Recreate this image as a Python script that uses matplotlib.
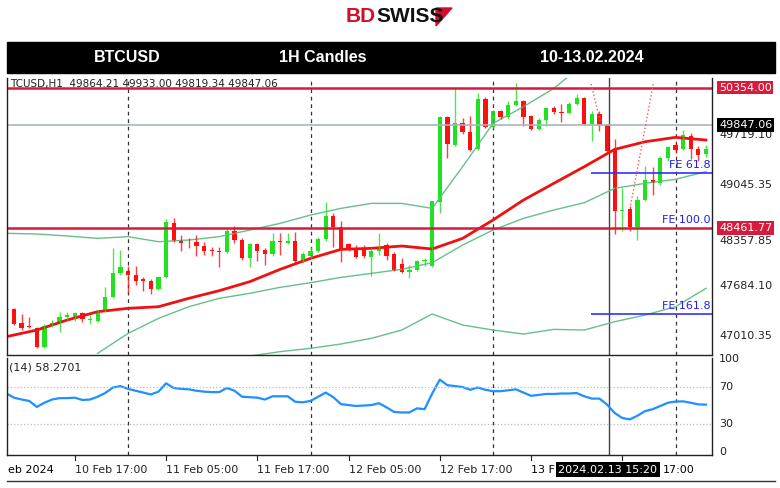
import numpy as np
import matplotlib.pyplot as plt
from matplotlib.patches import Rectangle, Polygon
from matplotlib.transforms import blended_transform_factory as btf

# candle readings (chart levels, converted to price below)
# first 47 candles read on one scale, the rest on another
lvl_a = [
    (391, 388, 386, 392), (388, 432, 383, 435), (430, 445, 403, 450), (438, 440, 410, 445),
    (445, 502, 440, 505), (500, 438, 432, 505), (438, 428, 420, 440), (425, 410, 395, 455),
    (412, 405, 395, 420), (418, 398, 395, 422), (398, 418, 395, 425), (419, 417, 405, 432),
    (422, 392, 390, 425), (392, 352, 320, 395), (352, 278, 205, 355), (278, 262, 210, 285),
    (272, 285, 258, 338), (285, 302, 258, 315), (298, 302, 290, 332), (302, 328, 298, 342),
    (328, 292, 290, 330), (292, 125, 118, 295), (128, 182, 115, 185), (180, 190, 165, 212),
    (188, 190, 175, 205), (185, 198, 165, 228), (198, 212, 185, 225), (212, 213, 200, 228),
    (212, 215, 200, 262), (215, 152, 145, 218), (152, 180, 138, 188), (180, 235, 175, 240),
    (235, 192, 190, 262), (192, 212, 190, 242), (210, 222, 205, 255), (222, 182, 160, 228),
    (182, 185, 160, 225), (188, 183, 160, 192), (183, 243, 155, 248), (243, 222, 215, 250),
    (228, 212, 200, 235), (212, 178, 170, 215), (178, 108, 65, 182), (108, 142, 100, 200),
    (140, 208, 122, 245), (192, 210, 188, 212), (205, 230, 195, 235),
]
lvl_b = [
    (512, 535, 500, 540), (538, 518, 510, 595), (520, 508, 465, 530), (500, 535, 495, 545),
    (528, 578, 522, 580), (558, 582, 540, 585), (582, 575, 560, 600), (575, 548, 545, 580),
    (548, 545, 540, 565), (565, 370, 368, 568), (372, 118, 115, 405), (118, 198, 115, 240),
    (200, 135, 30, 205), (135, 162, 120, 168), (162, 215, 115, 218), (212, 62, 45, 215),
    (62, 148, 58, 150), (148, 100, 95, 150), (98, 118, 95, 122), (118, 82, 68, 122),
    (82, 70, 15, 85), (68, 118, 65, 145), (115, 152, 110, 155), (152, 125, 120, 155),
    (125, 90, 88, 145), (90, 102, 85, 108), (102, 105, 78, 132), (105, 78, 72, 108),
    (78, 60, 48, 82), (60, 138, 58, 142), (138, 108, 100, 188), (108, 140, 100, 158),
    (140, 218, 138, 222), (215, 400, 182, 468), (400, 395, 330, 458), (392, 448, 385, 458),
    (448, 365, 355, 485), (365, 305, 265, 368), (305, 315, 268, 350), (315, 240, 235, 322),
    (240, 208, 205, 248), (200, 215, 195, 225), (212, 172, 155, 215), (175, 212, 165, 242),
    (212, 232, 205, 248), (228, 212, 200, 238),
]
ohlc_a = np.array([(o, h, l, c) for o, c, h, l in lvl_a], float) * -4.487 + 49109
ohlc_b = np.array([(o, h, l, c) for o, c, h, l in lvl_b], float) * -4.487 + 50482
ohlc = np.vstack([ohlc_a, ohlc_b])
opens, highs, lows, closes = ohlc.T

ma_idx = np.arange(0, 93, 4)
ma_red = [47000, 47089, 47224, 47336, 47381, 47403, 47516, 47619, 47740, 47906, 48054, 48175,
          48189, 48220, 48180, 48323, 48570, 48839, 49064, 49288, 49521, 49624, 49683, 49647]
bb_up = [48391, 48382, 48355, 48323, 48346, 48278, 48301, 48346, 48435, 48525, 48637, 48727,
         48794, 48794, 48727, 49288, 49871, 50096, 50342, 50679]
bb_mid = [46775, 47044, 47246, 47403, 47516, 47583, 47664, 47726, 47798, 47852, 47906, 47996,
          48233, 48435, 48592, 48705, 48803, 48996, 49064, 49118, 49221]
bb_low = [46739, 46798, 46843, 46901, 46977, 47089, 47305, 47157, 47089, 47035, 47098, 47089,
          47201, 47291, 47403, 47650]

rsi = [63, 58.5, 56.5, 55, 48.5, 53, 56.5, 58, 58, 58.5, 56, 56.5, 59.5, 63.5, 69.5, 71, 68, 66,
       64, 62, 65, 74, 69, 68, 67.5, 66, 65, 64.5, 64.5, 69, 66, 59.5, 59, 58.5, 56.5, 60, 60, 60,
       54, 53.5, 55, 59.5, 64, 59, 51.5, 50.5, 49.5, 50, 50.5, 52.5, 48, 43, 42.5, 42.5, 47, 46,
       63, 78, 72, 71, 70, 67, 69.5, 67, 65.5, 65.5, 66.5, 67.5, 64, 60.5, 61.5, 62.5, 62.5, 63,
       63, 63.5, 60, 57.5, 57.5, 51, 42, 36.5, 35, 39, 44, 46, 49.5, 53, 54.3, 54.5, 53, 51.2, 51]

price_ticks = [49719.10, 49045.35, 48357.85, 47684.10, 47010.35]
time_pos = [9, 21, 33, 45, 57]
time_labels = ["10 Feb 17:00", "11 Feb 05:00", "11 Feb 17:00", "12 Feb 05:00", "12 Feb 17:00"]
fe_levels = [49203, 48461.77, 47305]
fe_names = ["FE 61.8", "FE 100.0", "FE 161.8"]

W, H = 780, 488
fig = plt.figure(figsize=(W / 100, H / 100), dpi=100)
fig.patch.set_facecolor("white")

def box(x0, y0, x1, y1):
    return [x0 / W, 1 - y1 / H, (x1 - x0) / W, (y1 - y0) / H]

# header
fig.text(376 / W, 1 - 16 / H, "BD", color="#d0102a", fontsize=15, fontweight="bold",
         ha="right", va="center", family="Liberation Sans")
fig.text(376 / W, 1 - 16 / H, "SWISS", color="#111111", fontsize=15, fontweight="bold",
         ha="left", va="center", family="Liberation Sans")
fig.patches.append(Polygon([[436 / W, 1 - 8 / H], [452 / W, 1 - 8 / H], [436 / W, 1 - 26 / H]],
                           closed=True, transform=fig.transFigure, color="#d0102a"))
fig.patches.append(Rectangle((7 / W, 1 - 73 / H), 768 / W, 31 / H, transform=fig.transFigure,
                             color="black"))
for x, t in [(127, "BTCUSD"), (323, "1H Candles"), (592, "10-13.02.2024")]:
    fig.text(x / W, 1 - 58 / H, t, color="white", fontsize=11.5, fontweight="bold",
             ha="center", va="center", family="Liberation Sans")

ax = fig.add_axes(box(7, 78, 712, 355))
ax2 = fig.add_axes(box(7, 358, 712, 455))
x = np.arange(len(closes))

for a in (ax, ax2):
    a.set_xlim(0.08, 92.8)
    a.set_xticks([])
    a.set_yticks([])
    a.spines["top"].set_visible(False)
    for s in ("left", "right", "bottom"):
        a.spines[s].set_color("#222222")
        a.spines[s].set_linewidth(1)
    for d in (16, 40, 64, 88):
        a.axvline(d, color="#333333", lw=0.9, ls=(0, (3, 3)))
    a.axvline(79.3, color="#444444", lw=1)

ax.set_ylim(46753, 50482)
ax.plot(ma_idx[3:3 + len(bb_mid)], bb_mid, color="#66c08a", lw=1)
ax.plot(ma_idx[:len(bb_up)], bb_up, color="#66c08a", lw=1)
ax.plot(ma_idx[8:8 + len(bb_low)], bb_low, color="#66c08a", lw=1)
ax.plot(ma_idx[:-1].tolist() + [92], ma_red, color="#ee1111", lw=2)

up = closes >= opens
for i in x:
    col = "#22e022" if up[i] else "#ff1010"
    ax.vlines(i, lows[i], highs[i], color=col, lw=1, alpha=0.8)
    lo, hi = sorted((opens[i], closes[i]))
    ax.add_patch(Rectangle((i - 0.28, lo), 0.56, max(hi - lo, 8), color=col, lw=0))

ax.axhline(50354.00, color="#d81b3c", lw=1.8)
ax.axhline(48461.77, color="#d81b3c", lw=1.8)
ax.axhline(49847.06, color="#aab4bd", lw=1.2)
for lv, nm in zip(fe_levels, fe_names):
    if nm != "FE 100.0":
        ax.hlines(lv, 76.9, 92.8, color="#3030ff", lw=1.2)
    ax.text(92.6, lv + 45, nm, color="#2020ee", fontsize=8, ha="right", va="bottom")
ax.plot([76.9, 78.1], [50401, 49903], color="#ff5555", lw=1, ls=":")
ax.plot([82.1, 85.1], [48772, 50414], color="#ff5555", lw=1, ls=":")

ax.text(0.005, 0.995, "TCUSD,H1  49864.21 49933.00 49819.34 49847.06", transform=ax.transAxes,
        fontsize=7.5, color="#222222", va="top", ha="left")

tr = btf(ax.transAxes, ax.transData)
for p in price_ticks:
    dy = -70 if p == 48357.85 else 0
    ax.text(1.01, p + dy, f"{p:.2f}", transform=tr, fontsize=8, va="center", ha="left",
            color="#222222", zorder=1)
for p, fc in [(50354.00, "#d81b3c"), (49847.06, "black"), (48461.77, "#d81b3c")]:
    ax.text(1.01, p, f"{p:.2f}", transform=tr, fontsize=8, va="center", ha="left",
            color="white", bbox=dict(boxstyle="square,pad=0.15", fc=fc, ec="none"),
            clip_on=False, zorder=5)

ax2.set_ylim(-3.5, 101.4)
ax2.plot(x, rsi, color="#1e90ff", lw=1.6)
for g in (70, 30):
    ax2.axhline(g, color="#bbbbbb", lw=0.9, ls=":")
tr2 = btf(ax2.transAxes, ax2.transData)
for g in (100, 70, 30, 0):
    ax2.text(1.01, g, str(g), transform=tr2, fontsize=8, va="center", ha="left", color="#222222")
ax2.text(0.003, 0.9, "(14) 58.2701", transform=ax2.transAxes, fontsize=8, va="center",
         color="#222222")

trx = btf(ax2.transData, ax2.transAxes)
ax2.text(0.2, -0.1, "eb 2024", transform=trx, fontsize=8, va="top", ha="left")
for p, t in zip(time_pos, time_labels):
    ax2.text(p, -0.1, t, transform=trx, fontsize=8, va="top", ha="left", color="#222222")
for p in time_pos + [69, 81]:
    ax2.plot([p, p], [0, -0.05], transform=trx, color="#222222", lw=0.8, clip_on=False)
ax2.text(69, -0.1, "13 F", transform=trx, fontsize=8, va="top", ha="left")
ax2.text(86.3, -0.1, "17:00", transform=trx, fontsize=8, va="top", ha="left")
ax2.text(72.6, -0.1, "2024.02.13 15:20", transform=trx, fontsize=8, va="top", ha="left",
         color="white", bbox=dict(boxstyle="square,pad=0.2", fc="black", ec="none"))

fig.add_artist(plt.Line2D([7 / W, 775 / W], [1 - 481 / H, 1 - 481 / H], color="#333333", lw=1))

fig.savefig("out.png", dpi=100)
